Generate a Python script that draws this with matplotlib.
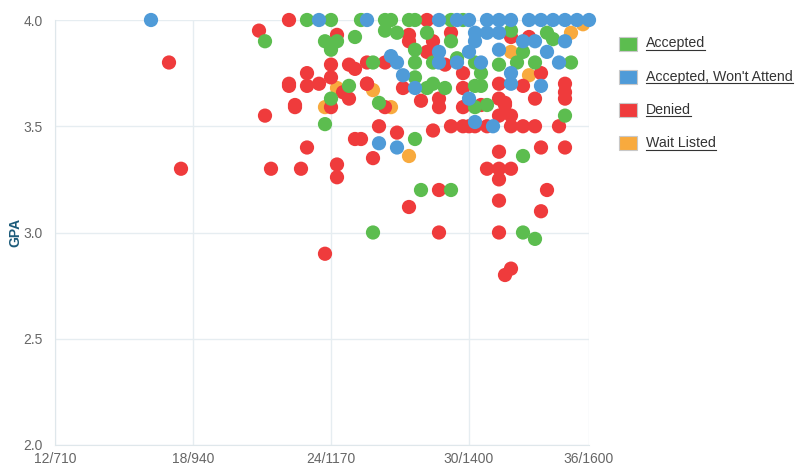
import matplotlib.pyplot as plt
from matplotlib.patches import Rectangle
from matplotlib.lines import Line2D

plt.rcParams['font.family'] = ['Liberation Sans', 'DejaVu Sans']

# x ticks (ACT / SAT), scale is linear in SAT
x_ticks = [710, 940, 1170, 1400, 1600]
x_tick_labels = ['12/710', '18/940', '24/1170', '30/1400', '36/1600']
y_ticks = [2.0, 2.5, 3.0, 3.5, 4.0]

# Accepted
accepted_sat = [1060, 1130, 1170, 1160, 1180, 1210, 1170, 1200, 1170, 1160,
                1220, 1260, 1270, 1300, 1310, 1370, 1260, 1280, 1330, 1370,
                1310, 1240, 1310, 1340, 1410, 1310, 1340, 1360, 1410, 1250,
                1410, 1310, 1320, 1370, 1240, 1490, 1510, 1490, 1560, 1420,
                1420, 1430, 1470, 1530, 1540, 1490, 1450, 1480, 1510, 1570,
                1390, 1330, 1380]
accepted_gpa = [3.90, 4.00, 4.00, 3.90, 3.90, 3.92, 3.86, 3.69, 3.63, 3.51,
                4.00, 4.00, 4.00, 4.00, 4.00, 4.00, 3.95, 3.94, 3.94, 3.90,
                3.86, 3.80, 3.80, 3.80, 3.80, 3.73, 3.70, 3.68, 3.69, 3.61,
                3.59, 3.44, 3.20, 3.20, 3.00, 3.00, 2.97, 3.36, 3.55, 3.75,
                3.69, 3.60, 3.95, 3.94, 3.91, 3.85, 3.79, 3.80, 3.80, 3.80,
                4.00, 3.68, 3.82]

# Accepted, Won't Attend
wont_attend_sat = [870, 1150, 1230, 1350, 1400, 1380, 1430, 1450, 1470, 1500,
                   1520, 1540, 1560, 1580, 1600, 1410, 1410, 1350, 1400, 1270,
                   1280, 1350, 1380, 1290, 1310, 1400, 1410, 1440, 1250, 1280,
                   1430, 1450, 1490, 1510, 1560, 1450, 1530, 1420, 1550, 1470,
                   1470, 1520]
wont_attend_gpa = [4.00, 4.00, 4.00, 4.00, 4.00, 4.00, 4.00, 4.00, 4.00, 4.00,
                   4.00, 4.00, 4.00, 4.00, 4.00, 3.94, 3.90, 3.85, 3.85, 3.83,
                   3.80, 3.80, 3.80, 3.74, 3.68, 3.63, 3.52, 3.50, 3.42, 3.40,
                   3.94, 3.94, 3.90, 3.90, 3.90, 3.86, 3.85, 3.80, 3.80, 3.75,
                   3.70, 3.69]

# Denied
denied_sat = [900, 920, 1050, 1100, 1100, 1110, 1060, 1070, 1120, 1180,
              1170, 1200, 1210, 1130, 1100, 1130, 1150, 1170, 1190, 1110,
              1200, 1230, 1170, 1130, 1210, 1180, 1180, 1240, 1250, 1280,
              1330, 1300, 1370, 1300, 1340, 1330, 1230, 1260, 1360, 1390,
              1230, 1390, 1260, 1350, 1350, 1390, 1340, 1370, 1390, 1400,
              1410, 1220, 1350, 1300, 1450, 1530, 1520, 1350, 1450, 1160,
              1470, 1460, 1460, 1450, 1470, 1430, 1470, 1490, 1510, 1550,
              1560, 1560, 1560, 1520, 1560, 1450, 1430, 1450, 1470, 1450,
              1500, 1470, 1520, 1490, 1450, 1450, 1510, 1460, 1420, 1320,
              1290]
denied_gpa = [3.80, 3.30, 3.95, 4.00, 3.70, 3.60, 3.55, 3.30, 3.30, 3.93,
              3.79, 3.79, 3.77, 3.75, 3.69, 3.69, 3.70, 3.73, 3.66, 3.59,
              3.63, 3.70, 3.59, 3.40, 3.44, 3.32, 3.26, 3.35, 3.50, 3.47,
              4.00, 3.93, 3.94, 3.90, 3.90, 3.85, 3.80, 3.80, 3.79, 3.75,
              3.70, 3.68, 3.59, 3.63, 3.59, 3.59, 3.48, 3.50, 3.50, 3.50,
              3.50, 3.44, 3.20, 3.12, 3.15, 3.20, 3.10, 3.00, 3.00, 2.90,
              2.83, 2.80, 3.61, 3.55, 3.55, 3.50, 3.50, 3.50, 3.50, 3.50,
              3.63, 3.66, 3.70, 3.40, 3.40, 3.38, 3.30, 3.30, 3.30, 3.25,
              3.92, 3.92, 3.75, 3.69, 3.70, 3.63, 3.63, 3.60, 3.60, 3.62,
              3.68]

# Wait Listed
waitlist_sat = [1180, 1160, 1240, 1270, 1300, 1590, 1570, 1470, 1500]
waitlist_gpa = [3.68, 3.59, 3.67, 3.59, 3.36, 3.98, 3.94, 3.85, 3.74]

series = [
    ('Accepted', accepted_sat, accepted_gpa, '#5cbd4f', 4),
    ("Accepted, Won't Attend", wont_attend_sat, wont_attend_gpa, '#4f9bd8', 5),
    ('Denied', denied_sat, denied_gpa, '#ef3b3c', 3),
    ('Wait Listed', waitlist_sat, waitlist_gpa, '#f8aa3e', 2),
]

fig = plt.figure(figsize=(8, 4.67), dpi=100)
ax = fig.add_axes([55 / 800, 1 - 445 / 467, 534 / 800, 425 / 467])

for name, xs, ys, color, z in series:
    ax.scatter(xs, ys, s=105, color=color, edgecolors='none', zorder=z, clip_on=False)

ax.set_xlim(710, 1600)
ax.set_ylim(2.0, 4.0)
ax.set_xticks(x_ticks)
ax.set_xticklabels(x_tick_labels)
ax.set_yticks(y_ticks)
ax.set_yticklabels(['%.1f' % v for v in y_ticks])
ax.tick_params(length=0, labelsize=10, labelcolor='#666666')
ax.tick_params(axis='x', pad=5)
ax.tick_params(axis='y', pad=9)
ax.grid(True, color='#e6edf1', linewidth=1)
ax.set_axisbelow(True)
for side in ['top', 'right']:
    ax.spines[side].set_visible(False)
for side in ['left', 'bottom']:
    ax.spines[side].set_color('#dfe7eb')

fig.text(15 / 800, 1 - 232 / 467, 'GPA', rotation=90, ha='center', va='center',
         fontsize=10, fontweight='bold', color='#1c5b7a')

# legend drawn by hand so the labels can be underlined
fig.canvas.draw()
renderer = fig.canvas.get_renderer()
W, H = 800, 467
for i, (name, xs, ys, color, z) in enumerate(series):
    yc = 43.5 + i * 33.2
    fig.patches.append(Rectangle((619 / W, 1 - (yc + 7) / H), 18 / W, 14 / H,
                                 facecolor=color, edgecolor='#c8c8c8', linewidth=0.8,
                                 transform=fig.transFigure))
    t = fig.text(646 / W, 1 - yc / H, name, ha='left', va='center',
                 fontsize=10.2, color='#333333')
    bb = t.get_window_extent(renderer)
    uy = bb.y0 + 0.5
    fig.lines.append(Line2D([bb.x0 / W, bb.x1 / W], [uy / H, uy / H],
                            color='#333333', linewidth=0.8, transform=fig.transFigure))

plt.savefig('out.png', dpi=100)
